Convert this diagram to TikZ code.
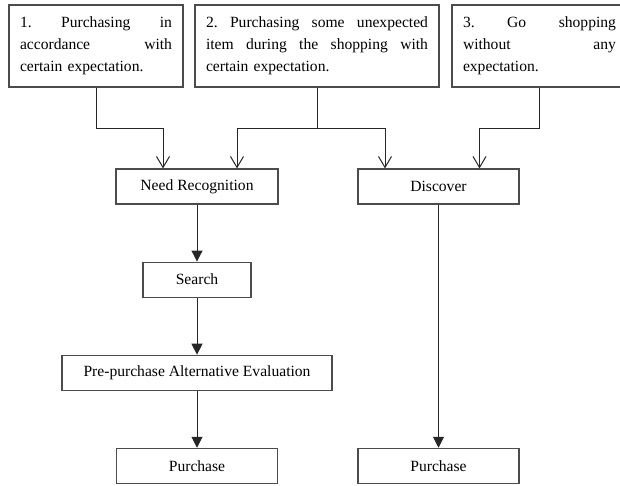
\documentclass[tikz,border=0pt]{standalone}
\usepackage{fontspec}
\setmainfont{Liberation Serif}
\usepackage{tikz}
\usetikzlibrary{positioning, arrows.meta}

\begin{document}
\begin{tikzpicture}[
    x=1pt, y=-1pt,
    node distance=57pt,
    txt/.style={font=\fontsize{15.6}{22}\selectfont},
    case/.style={draw=black!70, line width=1.1pt, txt, align=left, inner xsep=11pt, minimum height=82pt},
    box/.style={draw=black!70, line width=1.1pt, txt, align=center, minimum height=35pt},
    open/.style={-{Straight Barb[length=11pt,width=13pt]}, line width=1pt, black!85},
    arrow/.style={-{Triangle[length=11pt,width=11pt]}, line width=1pt, black!85}
]
\useasboundingbox (0,0) rectangle (620,486);

% Three cases
\node[case, text width=152pt] (opt1) at (96,46)
    {1.\hfill Purchasing\hfill in\\ accordance\hfill with\\ certain expectation.};
\node[case, text width=222pt] (opt2) at (317,46)
    {2.\hfill Purchasing\hfill some\hfill unexpected\\ item\hfill during\hfill the\hfill shopping\hfill with\\ certain expectation.};
\node[case, text width=153pt] (opt3) at (539.5,46)
    {3.\hfill Go\hfill shopping\\ without\hfill any\\ expectation.};

% Left chain
\node[box, minimum width=162pt] (need) at (197,186.5) {Need Recognition};
\node[box, minimum width=108pt, below=of need] (search) {Search};
\node[box, minimum width=270pt, below=of search] (eval) {Pre-purchase Alternative Evaluation};
\node[box, minimum width=161pt, below=of eval] (buy1) {Purchase};

% Right chain
\node[box, minimum width=161pt] (disc) at (438.5,186.5) {Discover};
\node[box, minimum width=161pt] (buy2) at (disc |- buy1) {Purchase};

% From the cases
\draw[open] (opt1.south) -- ++(0,41) -| ([xshift=-34pt]need.north);
\draw[line width=1pt, black!85] (opt2.south) -- ++(0,41) coordinate (split);
\draw[open] (split) -| ([xshift=40pt]need.north);
\draw[open] (split) -| ([xshift=-53.5pt]disc.north);
\draw[open] (opt3.south) -- ++(0,41) -| ([xshift=41pt]disc.north);

% Down the chains
\draw[arrow] (need) -- (search);
\draw[arrow] (search) -- (eval);
\draw[arrow] (eval) -- (buy1);
\draw[arrow] (disc) -- (buy2);

\end{tikzpicture}
\end{document}
